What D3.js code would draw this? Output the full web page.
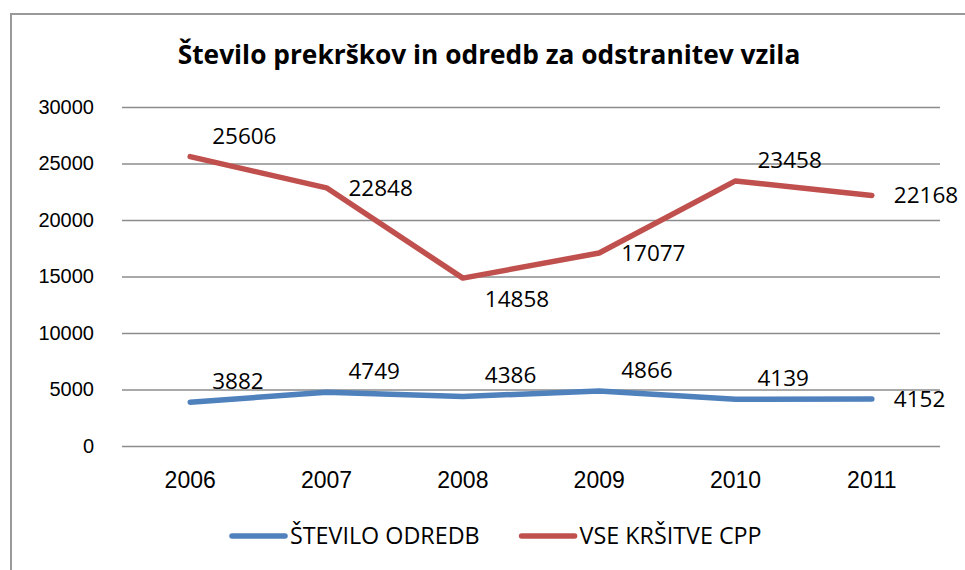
<!DOCTYPE html>
<html>
<head>
<meta charset="utf-8">
<title>Število prekrškov</title>
<script src="https://cdn.jsdelivr.net/npm/d3@7"></script>
<style>
  html, body { margin: 0; padding: 0; background: #fff; }
  svg { display: block; font-family: "Open Sans", sans-serif; }
  .grid line { stroke: #8c8c8c; stroke-width: 1.5px; }
  .grid .domain { display: none; }
  .grid text { font-size: 20px; fill: #000; }
  .xaxis text { font-size: 23px; fill: #000; }
</style>
</head>
<body>
<div id="main"></div>
<script>
var years = ["2006", "2007", "2008", "2009", "2010", "2011"];
var odredbe = [3882, 4749, 4386, 4866, 4139, 4152];
var krsitve = [25606, 22848, 14858, 17077, 23458, 22168];
var yTicks = [0, 5000, 10000, 15000, 20000, 25000, 30000];
var seriesNames = ["ŠTEVILO ODREDB", "VSE KRŠITVE CPP"];
// where Excel put each data label relative to its point
var odredbeLabelPos = ["above", "above", "above", "above", "above", "right"];
var krsitveLabelPos = ["above", "right", "below", "right", "above", "right"];

var width = 965, height = 570;
var margin = {left: 122, right: 25, top: 107, bottom: 124};
var colors = ["#4f81bd", "#c0504d"];

var svg = d3.select("#main").append("svg")
    .attr("width", width)
    .attr("height", height);

// chart frame
svg.append("rect")
    .attr("x", 11).attr("y", 14)
    .attr("width", width).attr("height", height)
    .attr("fill", "none")
    .attr("stroke", "#999")
    .attr("stroke-width", 2);

svg.append("text")
    .attr("x", 489).attr("y", 64)
    .attr("text-anchor", "middle")
    .attr("font-size", 26.3)
    .attr("font-weight", "bold")
    .text("Število prekrškov in odredb za odstranitev vzila");

var x = d3.scaleBand()
    .domain(years)
    .range([margin.left, width - margin.right]);

var y = d3.scaleLinear()
    .domain([0, 30000])
    .range([height - margin.bottom, margin.top]);

svg.append("g")
    .attr("class", "grid")
    .attr("transform", "translate(" + margin.left + ",0)")
    .call(d3.axisLeft(y).tickValues(yTicks).tickSize(-(width - margin.right - margin.left)).tickPadding(28).tickFormat(d3.format("d")));

svg.append("g")
    .attr("class", "xaxis")
    .attr("transform", "translate(0," + (height - margin.bottom) + ")")
    .call(d3.axisBottom(x).tickSize(0).tickPadding(26))
    .call(function(g) { g.select(".domain").remove(); });

var line = d3.line()
    .x(function(d, i) { return x(years[i]) + x.bandwidth() / 2; })
    .y(function(d) { return y(d); });

function drawSeries(values, color, labelPos) {
    svg.append("path")
        .datum(values)
        .attr("fill", "none")
        .attr("stroke", color)
        .attr("stroke-width", 5.5)
        .attr("stroke-linejoin", "round")
        .attr("stroke-linecap", "round")
        .attr("d", line);

    svg.append("g").selectAll("text")
        .data(values)
        .join("text")
        .attr("x", function(d, i) { return x(years[i]) + x.bandwidth() / 2 + 22; })
        .attr("y", function(d, i) {
            var p = labelPos[i];
            var off = p == "above" ? -21 : (p == "below" ? 21 : 0);
            return y(d) + off;
        })
        .attr("dy", "0.35em")
        .attr("font-size", 22.5)
        .text(function(d) { return d; });
}

drawSeries(odredbe, colors[0], odredbeLabelPos);
drawSeries(krsitve, colors[1], krsitveLabelPos);

// legend, laid out left to right
var lx = 232;
seriesNames.forEach(function(name, i) {
    var g = svg.append("g").attr("transform", "translate(" + lx + ",536)");
    g.append("line")
        .attr("x1", 0).attr("x2", 53)
        .attr("stroke", colors[i])
        .attr("stroke-width", 5.5)
        .attr("stroke-linecap", "round");
    var t = g.append("text")
        .attr("x", 58)
        .attr("dy", "0.35em")
        .attr("font-size", 23.3)
        .text(name);
    lx += 58 + t.node().getComputedTextLength() + 42;
});
</script>
</body>
</html>
